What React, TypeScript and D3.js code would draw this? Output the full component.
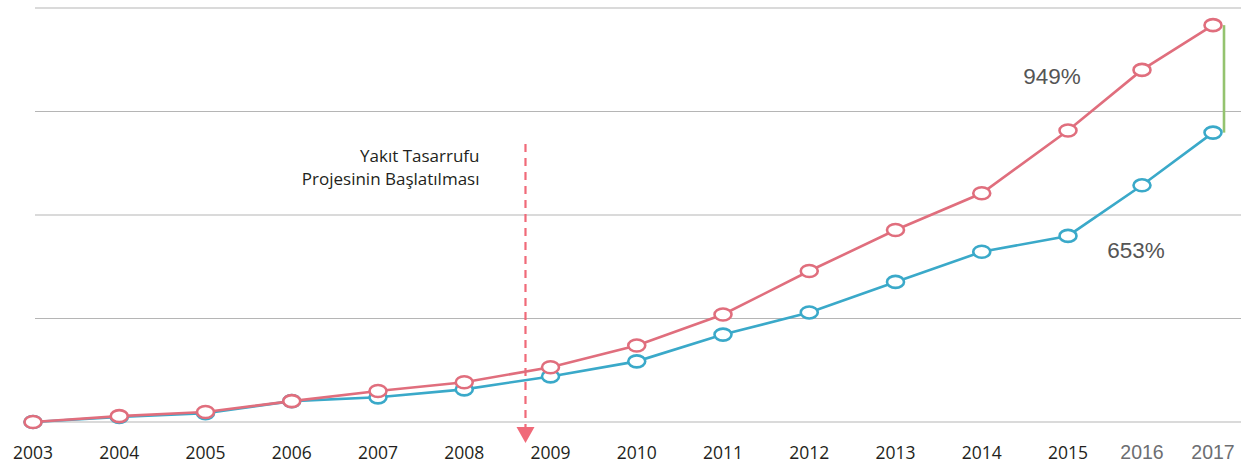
import React from "react";
import * as d3 from "d3";

const years = [2003, 2004, 2005, 2006, 2007, 2008, 2009, 2010, 2011, 2012, 2013, 2014, 2015, 2016, 2017];
const redValues = [0, 14, 24, 50, 74, 95, 131, 183, 257, 361, 459, 547, 697, 842, 949];
const blueValues = [0, 12, 21, 50, 59, 78, 109, 145, 209, 262, 335, 407, 445, 566, 692];
const gridValues = [0, 247.5, 495, 742.5, 990];
const greyYears = [2016, 2017];
const annotationLines = ["Yakıt Tasarrufu", "Projesinin Başlatılması"];
const projectStart = 2008.71;
const redLabel = "949%";
const blueLabel = "653%";

const W = 1241;
const H = 465;
const RED = "#e06e7d";
const BLUE = "#3aa9c9";

export default function App() {
  // piecewise linear x scale: last two years are drawn closer together
  const x = d3.scaleLinear().domain([2003, 2015, 2016, 2017]).range([33, 1068, 1142, 1213]);
  const y = d3.scaleLinear().domain([0, 990]).range([422, 8]);

  const line = d3
    .line<number>()
    .x((_, i) => x(years[i]))
    .y((d) => y(d));

  const arrowX = x(projectStart);
  const lastX = x(2017);

  const renderSeries = (vals: number[], color: string) => (
    <g>
      <path d={line(vals) || ""} fill="none" stroke={color} strokeWidth={2.6} />
      {vals.map((v, i) => (
        <ellipse
          key={i}
          cx={x(years[i])}
          cy={y(v)}
          rx={8.5}
          ry={6}
          fill="#fff"
          stroke={color}
          strokeWidth={2.6}
        />
      ))}
    </g>
  );

  return (
    <svg
      width={W}
      height={H}
      style={{ position: "absolute", left: 0, top: 0, background: "#fff" }}
    >
      {gridValues.map((g, i) => (
        <line key={i} x1={35} x2={W} y1={y(g)} y2={y(g)} stroke="#b5b5b5" strokeWidth={1.2} />
      ))}

      {/* project start marker */}
      <line
        x1={arrowX}
        x2={arrowX}
        y1={144}
        y2={428}
        stroke="#f06a79"
        strokeWidth={2.2}
        strokeDasharray="8 6"
      />
      <path
        d={`M${arrowX - 9},${427} L${arrowX + 9},${427} L${arrowX},${443} Z`}
        fill="#f06a79"
      />
      {annotationLines.map((t, i) => (
        <text
          key={i}
          x={arrowX - 46}
          y={162 + i * 23}
          textAnchor="end"
          fontFamily="'Open Sans', sans-serif"
          fontSize={17}
          fill="#231f20"
        >
          {t}
        </text>
      ))}

      {/* difference bar */}
      <line
        x1={lastX + 11}
        x2={lastX + 11}
        y1={y(redValues[14])}
        y2={y(blueValues[14])}
        stroke="#94c36f"
        strokeWidth={2.6}
      />

      {renderSeries(blueValues, BLUE)}
      {renderSeries(redValues, RED)}

      <text x={1052} y={84} textAnchor="middle" fontFamily="'Liberation Sans', Arial, sans-serif" fontSize={22.5} fill="#555">
        {redLabel}
      </text>
      <text x={1136} y={258} textAnchor="middle" fontFamily="'Liberation Sans', Arial, sans-serif" fontSize={22.5} fill="#555">
        {blueLabel}
      </text>

      {years.map((yr) => {
        const grey = greyYears.includes(yr);
        return (
          <text
            key={yr}
            x={x(yr)}
            y={459}
            textAnchor="middle"
            fontFamily={grey ? "'Liberation Sans', Arial, sans-serif" : "'Open Sans', sans-serif"}
            fontSize={grey ? 19.5 : 17.5}
            fill={grey ? "#6d6e71" : "#231f20"}
          >
            {yr}
          </text>
        );
      })}
    </svg>
  );
}
